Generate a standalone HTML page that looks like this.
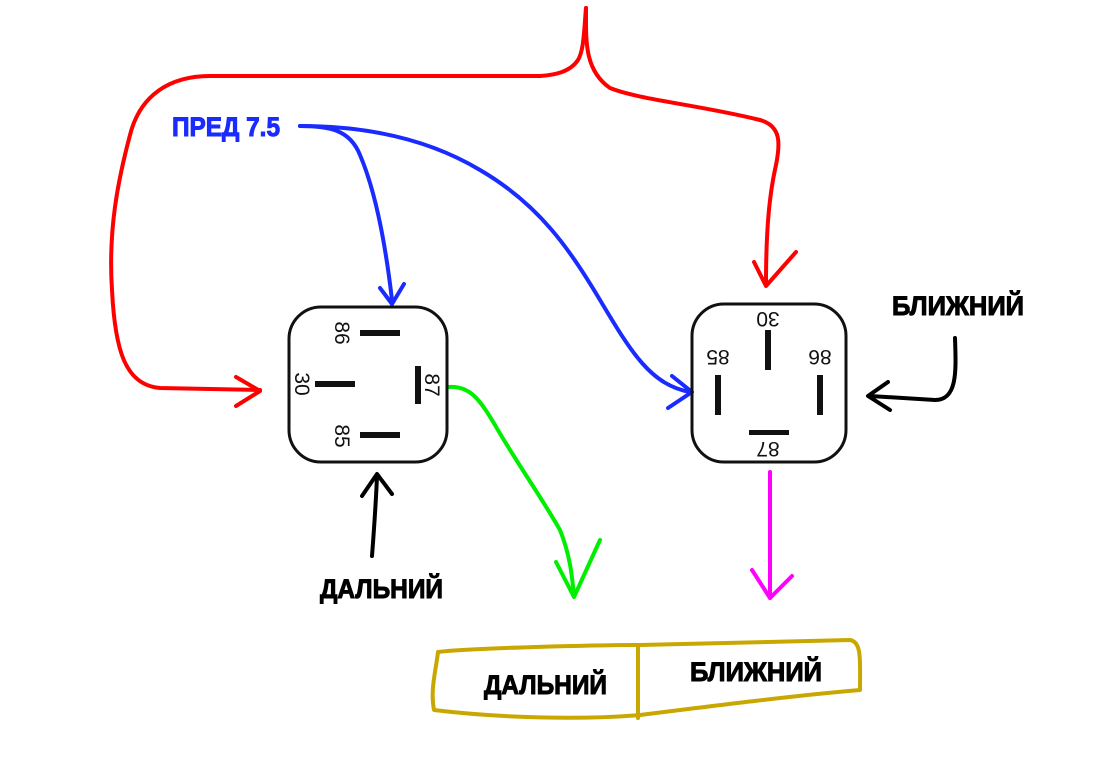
<!DOCTYPE html>
<html><head><meta charset="utf-8"><style>
html,body{margin:0;padding:0;background:#fff;width:1100px;height:777px;overflow:hidden}
svg text{font-family:"Liberation Sans",sans-serif;}
</style></head><body>
<svg width="1100" height="777" viewBox="0 0 1100 777" xmlns="http://www.w3.org/2000/svg">
<g fill="none" stroke-linecap="round" stroke-linejoin="round">
<path d="M586,8 C584,30 584,50 578,60 C570,72 555,75 540,76 L210,76 C170,76 140,95 130,135 C118,180 108,230 112,290 C115,350 125,385 160,388 L260,390" stroke="#f00" stroke-width="4"/>
<path d="M236,377 L260,391 L236,406" stroke="#f00" stroke-width="4"/>
<path d="M586,8 C586,40 584,70 610,88 C640,100 700,105 760,120 C782,126 780,145 776,165 C768,200 766,240 766,285" stroke="#f00" stroke-width="4"/>
<path d="M754,262 L766,286 L796,252" stroke="#f00" stroke-width="4"/>
<path d="M300,126 C330,126 350,130 360,155 C375,190 385,240 392,300" stroke="#1a2bff" stroke-width="4"/>
<path d="M380,288 L392,304 L404,284" stroke="#1a2bff" stroke-width="4"/>
<path d="M300,126 C370,126 430,140 480,170 C540,205 570,250 600,300 C630,350 650,385 690,392" stroke="#1a2bff" stroke-width="4"/>
<path d="M672,376 L692,392 L668,408" stroke="#1a2bff" stroke-width="4"/>
<path d="M448,387 C470,385 480,400 495,425 C515,460 540,495 560,530 C570,555 572,575 574,596" stroke="#00ee00" stroke-width="4"/>
<path d="M556,562 L574,597 L600,540" stroke="#00ee00" stroke-width="4"/>
<path d="M770,472 L770,598" stroke="#ff00ff" stroke-width="4"/>
<path d="M752,570 L770,598 L792,576" stroke="#ff00ff" stroke-width="4"/>
<path d="M372,556 C374,530 376,500 377,476" stroke="#000" stroke-width="4"/>
<path d="M362,496 L377,474 L392,494" stroke="#000" stroke-width="4"/>
<path d="M955,338 C956,370 958,400 935,400 L870,396" stroke="#000" stroke-width="4"/>
<path d="M888,382 L868,396 L890,410" stroke="#000" stroke-width="4"/>
<path d="M438,652 C470,648 600,645 640,645 L850,640 C862,642 860,660 860,690 C800,695 720,705 640,715 C580,720 500,718 434,710 C430,690 436,670 438,652 Z" stroke="#c8a800" stroke-width="4"/>
<path d="M638,645 L638,718" stroke="#c8a800" stroke-width="4"/>
<rect x="289" y="307" width="158" height="155" rx="32" stroke="#111" stroke-width="3"/>
<rect x="692" y="304" width="154" height="158" rx="32" stroke="#111" stroke-width="3"/>
</g>
<g fill="#111">
<rect x="360" y="330" width="40" height="6"/>
<rect x="315" y="381" width="40" height="6"/>
<rect x="415" y="366" width="6" height="38"/>
<rect x="360" y="432" width="40" height="6"/>
<rect x="765" y="330" width="6" height="40"/>
<rect x="715" y="375" width="6" height="40"/>
<rect x="817" y="375" width="6" height="40"/>
<rect x="749" y="430" width="40" height="5"/>
</g>
<g font-size="21" fill="#111" text-anchor="middle">
<text transform="translate(335,333) rotate(90)">86</text>
<text transform="translate(295,384) rotate(90)">30</text>
<text transform="translate(425,385) rotate(90)">87</text>
<text transform="translate(335,436) rotate(90)">85</text>
<text transform="translate(768,312) rotate(180)">30</text>
<text transform="translate(718,350) rotate(180)">85</text>
<text transform="translate(820,350) rotate(180)">86</text>
<text transform="translate(768,442) rotate(180)">87</text>
</g>
<g font-weight="bold" font-size="27" stroke-width="1">
<text x="172" y="136" fill="#1a2bff" stroke="#1a2bff" textLength="108" lengthAdjust="spacingAndGlyphs">ПРЕД 7.5</text>
<text x="892" y="315" fill="#000" stroke="#000" textLength="132" lengthAdjust="spacingAndGlyphs">БЛИЖНИЙ</text>
<text x="320" y="598" fill="#000" stroke="#000" textLength="123" lengthAdjust="spacingAndGlyphs">ДАЛЬНИЙ</text>
<text x="484" y="694" fill="#000" stroke="#000" textLength="123" lengthAdjust="spacingAndGlyphs">ДАЛЬНИЙ</text>
<text x="690" y="681" fill="#000" stroke="#000" textLength="132" lengthAdjust="spacingAndGlyphs">БЛИЖНИЙ</text>
</g>
</svg>
</body></html>
